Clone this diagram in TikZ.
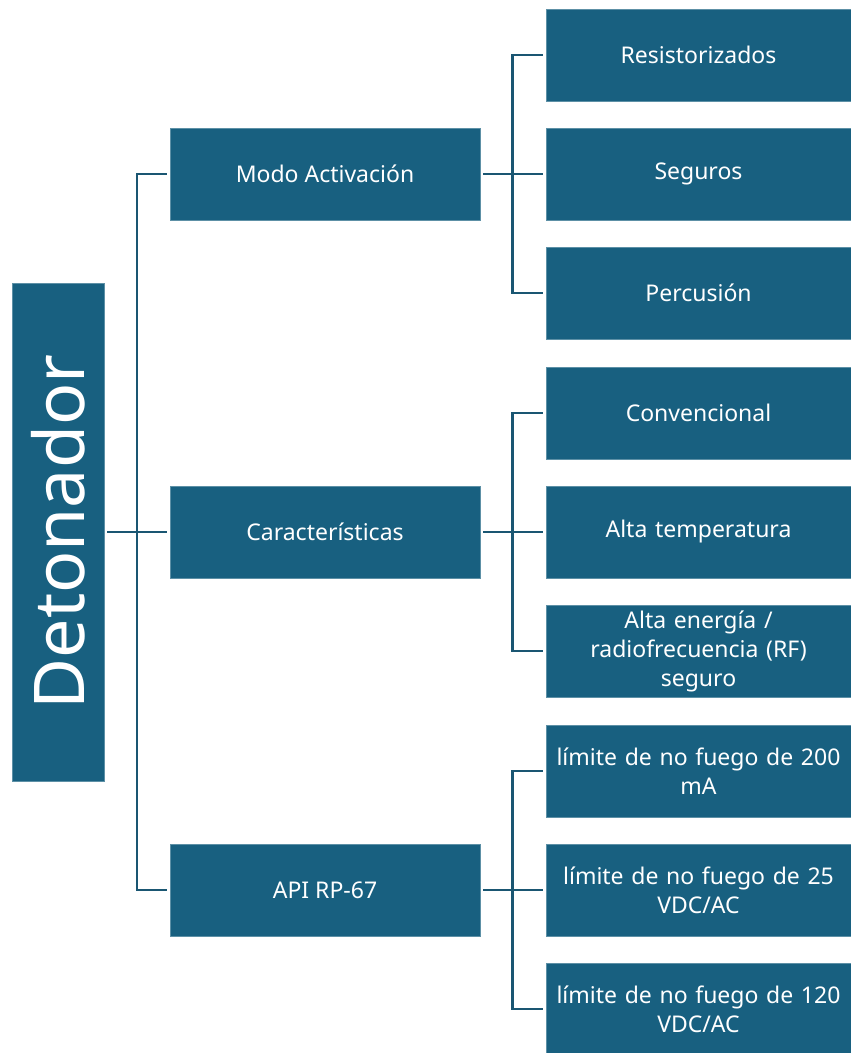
\documentclass[tikz,border=0pt]{standalone}
\usepackage{fontspec}
\setmainfont{Noto Sans}
\definecolor{boxfill}{RGB}{24,96,128}
\definecolor{linec}{RGB}{26,86,114}
\begin{document}
\begin{tikzpicture}[x=1pt,y=-1pt,
  box/.style={fill=boxfill,draw=boxfill!70!white,line width=0.6pt,text=white,align=center,inner sep=0pt,
    font=\fontsize{23}{29}\selectfont},
  midbox/.style={box,minimum width=310,minimum height=92},
  leafbox/.style={box,minimum width=305,minimum height=92,text width=300},
  conn/.style={draw=linec,line width=2.5pt}]
\useasboundingbox (0,0) rectangle (851,1053);
\node[box,minimum width=92,minimum height=498] (root) at (58,532)
  {\rotatebox{90}{\fontsize{70}{80}\selectfont Detonador}};
\node[midbox] (m1) at (325,174) {Modo Activación};
\node[midbox] (m2) at (325,532) {Características};
\node[midbox] (m3) at (325,890) {API RP-67};
\node[leafbox] (l1) at (698.5,55) {Resistorizados};
\node[leafbox] (l2) at (698.5,174) {Seguros};
\node[leafbox] (l3) at (698.5,293) {Percusión};
\node[leafbox] (l4) at (698.5,413) {Convencional};
\node[leafbox] (l5) at (698.5,532) {Alta temperatura};
\node[leafbox] (l6) at (698.5,651) {Alta energía /\\radiofrecuencia (RF)\\seguro};
\node[leafbox] (l7) at (698.5,771) {límite de no fuego de 200\\mA};
\node[leafbox] (l8) at (698.5,890) {límite de no fuego de 25\\VDC/AC};
\node[leafbox] (l9) at (698.5,1009) {límite de no fuego de 120\\VDC/AC};
% root connectors
\coordinate (t1) at (137,174);
\coordinate (t3) at (137,890);
\draw[conn] ([xshift=3]root.east) -- ([xshift=-3]m2.west);
\draw[conn] ([xshift=-3]m1.west) -- (t1) -- (t3) -- ([xshift=-3]m3.west);
% mid connectors
\foreach \m/\a/\b/\c in {m1/l1/l2/l3, m2/l4/l5/l6, m3/l7/l8/l9}{
  \coordinate (j) at ([xshift=32]\m.east);
  \draw[conn] ([xshift=3]\m.east) -- ([xshift=-3]\b.west);
  \draw[conn] ([xshift=-3]\a.west) -| (j |- \c.west) -- ([xshift=-3]\c.west);
}
\end{tikzpicture}
\end{document}
